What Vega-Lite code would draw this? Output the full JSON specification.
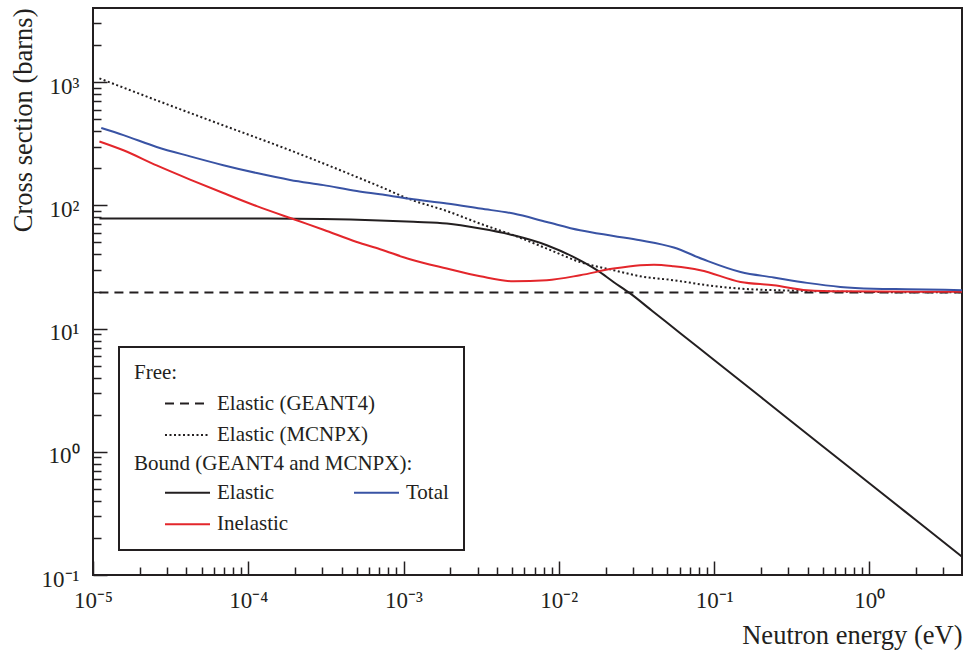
{
  "$schema": "https://vega.github.io/schema/vega-lite/v6.json",
  "width": 869,
  "height": 567,
  "autosize": {"type": "none"},
  "padding": {"left": 93, "top": 8, "right": 1, "bottom": 75},
  "background": "white",
  "config": {
    "view": {"stroke": "#231f20", "strokeWidth": 2},
    "font": "Liberation Serif",
    "axis": {"zindex": 1}
  },
  "data": {
    "values": [
      {"group": "free", "curve": "Elastic (GEANT4)", "E": 1.1e-5, "sigma": 19.6},
      {"group": "free", "curve": "Elastic (GEANT4)", "E": 3.95, "sigma": 19.6},

      {"group": "free", "curve": "Elastic (MCNPX)", "E": 1.1e-5, "sigma": 1074},
      {"group": "free", "curve": "Elastic (MCNPX)", "E": 2.57e-5, "sigma": 712},
      {"group": "free", "curve": "Elastic (MCNPX)", "E": 6.91e-5, "sigma": 446},
      {"group": "free", "curve": "Elastic (MCNPX)", "E": 1.86e-4, "sigma": 280},
      {"group": "free", "curve": "Elastic (MCNPX)", "E": 5.0e-4, "sigma": 170},
      {"group": "free", "curve": "Elastic (MCNPX)", "E": 7.06e-4, "sigma": 142},
      {"group": "free", "curve": "Elastic (MCNPX)", "E": 1.1e-3, "sigma": 112},
      {"group": "free", "curve": "Elastic (MCNPX)", "E": 1.9e-3, "sigma": 90},
      {"group": "free", "curve": "Elastic (MCNPX)", "E": 3.12e-3, "sigma": 71},
      {"group": "free", "curve": "Elastic (MCNPX)", "E": 5.11e-3, "sigma": 57.2},
      {"group": "free", "curve": "Elastic (MCNPX)", "E": 8.37e-3, "sigma": 44.6},
      {"group": "free", "curve": "Elastic (MCNPX)", "E": 1.37e-2, "sigma": 34.7},
      {"group": "free", "curve": "Elastic (MCNPX)", "E": 2.25e-2, "sigma": 29.8},
      {"group": "free", "curve": "Elastic (MCNPX)", "E": 3.34e-2, "sigma": 26.6},
      {"group": "free", "curve": "Elastic (MCNPX)", "E": 5.48e-2, "sigma": 24.7},
      {"group": "free", "curve": "Elastic (MCNPX)", "E": 9.0e-2, "sigma": 22.5},
      {"group": "free", "curve": "Elastic (MCNPX)", "E": 0.148, "sigma": 21.1},
      {"group": "free", "curve": "Elastic (MCNPX)", "E": 0.397, "sigma": 20.2},
      {"group": "free", "curve": "Elastic (MCNPX)", "E": 1.0, "sigma": 19.8},
      {"group": "free", "curve": "Elastic (MCNPX)", "E": 3.95, "sigma": 19.7},

      {"group": "bound", "curve": "Elastic", "E": 1.1e-5, "sigma": 78.3},
      {"group": "bound", "curve": "Elastic", "E": 1.0e-4, "sigma": 78.2},
      {"group": "bound", "curve": "Elastic", "E": 3.0e-4, "sigma": 77.5},
      {"group": "bound", "curve": "Elastic", "E": 7.0e-4, "sigma": 75.5},
      {"group": "bound", "curve": "Elastic", "E": 1.16e-3, "sigma": 73.5},
      {"group": "bound", "curve": "Elastic", "E": 1.9e-3, "sigma": 71.2},
      {"group": "bound", "curve": "Elastic", "E": 3.12e-3, "sigma": 64.8},
      {"group": "bound", "curve": "Elastic", "E": 5.11e-3, "sigma": 57.2},
      {"group": "bound", "curve": "Elastic", "E": 8.37e-3, "sigma": 47.5},
      {"group": "bound", "curve": "Elastic", "E": 1.24e-2, "sigma": 38.2},
      {"group": "bound", "curve": "Elastic", "E": 1.76e-2, "sigma": 29.8},
      {"group": "bound", "curve": "Elastic", "E": 2.25e-2, "sigma": 23.9},
      {"group": "bound", "curve": "Elastic", "E": 2.88e-2, "sigma": 19.3},
      {"group": "bound", "curve": "Elastic", "E": 0.04, "sigma": 13.9},
      {"group": "bound", "curve": "Elastic", "E": 0.06, "sigma": 9.26},
      {"group": "bound", "curve": "Elastic", "E": 0.1, "sigma": 5.56},
      {"group": "bound", "curve": "Elastic", "E": 0.2, "sigma": 2.78},
      {"group": "bound", "curve": "Elastic", "E": 0.5, "sigma": 1.11},
      {"group": "bound", "curve": "Elastic", "E": 1.0, "sigma": 0.556},
      {"group": "bound", "curve": "Elastic", "E": 2.0, "sigma": 0.278},
      {"group": "bound", "curve": "Elastic", "E": 3.95, "sigma": 0.1407},

      {"group": "bound", "curve": "Inelastic", "E": 1.1e-5, "sigma": 330},
      {"group": "bound", "curve": "Inelastic", "E": 1.57e-5, "sigma": 280},
      {"group": "bound", "curve": "Inelastic", "E": 2.57e-5, "sigma": 211},
      {"group": "bound", "curve": "Inelastic", "E": 4.22e-5, "sigma": 162},
      {"group": "bound", "curve": "Inelastic", "E": 6.91e-5, "sigma": 126},
      {"group": "bound", "curve": "Inelastic", "E": 1.135e-4, "sigma": 98.6},
      {"group": "bound", "curve": "Inelastic", "E": 2.05e-4, "sigma": 75.7},
      {"group": "bound", "curve": "Inelastic", "E": 3.05e-4, "sigma": 63.5},
      {"group": "bound", "curve": "Inelastic", "E": 5.0e-4, "sigma": 50.5},
      {"group": "bound", "curve": "Inelastic", "E": 7.06e-4, "sigma": 44.1},
      {"group": "bound", "curve": "Inelastic", "E": 1.1e-3, "sigma": 36.5},
      {"group": "bound", "curve": "Inelastic", "E": 1.9e-3, "sigma": 30.7},
      {"group": "bound", "curve": "Inelastic", "E": 3.12e-3, "sigma": 26.6},
      {"group": "bound", "curve": "Inelastic", "E": 5.11e-3, "sigma": 24.2},
      {"group": "bound", "curve": "Inelastic", "E": 8.37e-3, "sigma": 24.7},
      {"group": "bound", "curve": "Inelastic", "E": 1.37e-2, "sigma": 27.1},
      {"group": "bound", "curve": "Inelastic", "E": 2.25e-2, "sigma": 30.7},
      {"group": "bound", "curve": "Inelastic", "E": 3.34e-2, "sigma": 32.7},
      {"group": "bound", "curve": "Inelastic", "E": 4.1e-2, "sigma": 33.0},
      {"group": "bound", "curve": "Inelastic", "E": 5.48e-2, "sigma": 32.1},
      {"group": "bound", "curve": "Inelastic", "E": 8.15e-2, "sigma": 29.8},
      {"group": "bound", "curve": "Inelastic", "E": 0.148, "sigma": 23.9},
      {"group": "bound", "curve": "Inelastic", "E": 0.242, "sigma": 22.5},
      {"group": "bound", "curve": "Inelastic", "E": 0.397, "sigma": 20.5},
      {"group": "bound", "curve": "Inelastic", "E": 0.65, "sigma": 20.1},
      {"group": "bound", "curve": "Inelastic", "E": 3.95, "sigma": 19.9},

      {"group": "bound", "curve": "Total", "E": 1.13e-5, "sigma": 425},
      {"group": "bound", "curve": "Total", "E": 1.57e-5, "sigma": 372},
      {"group": "bound", "curve": "Total", "E": 2.57e-5, "sigma": 298},
      {"group": "bound", "curve": "Total", "E": 4.22e-5, "sigma": 250},
      {"group": "bound", "curve": "Total", "E": 6.91e-5, "sigma": 212},
      {"group": "bound", "curve": "Total", "E": 1.135e-4, "sigma": 183},
      {"group": "bound", "curve": "Total", "E": 1.86e-4, "sigma": 161},
      {"group": "bound", "curve": "Total", "E": 3.05e-4, "sigma": 146},
      {"group": "bound", "curve": "Total", "E": 5.0e-4, "sigma": 131},
      {"group": "bound", "curve": "Total", "E": 7.06e-4, "sigma": 123},
      {"group": "bound", "curve": "Total", "E": 1.1e-3, "sigma": 113},
      {"group": "bound", "curve": "Total", "E": 1.9e-3, "sigma": 103.5},
      {"group": "bound", "curve": "Total", "E": 3.12e-3, "sigma": 94.2},
      {"group": "bound", "curve": "Total", "E": 5.11e-3, "sigma": 85.8},
      {"group": "bound", "curve": "Total", "E": 8.37e-3, "sigma": 73.3},
      {"group": "bound", "curve": "Total", "E": 1.37e-2, "sigma": 62.8},
      {"group": "bound", "curve": "Total", "E": 2.25e-2, "sigma": 56.5},
      {"group": "bound", "curve": "Total", "E": 3.34e-2, "sigma": 52.1},
      {"group": "bound", "curve": "Total", "E": 5.5e-2, "sigma": 45.5},
      {"group": "bound", "curve": "Total", "E": 8.5e-2, "sigma": 36.5},
      {"group": "bound", "curve": "Total", "E": 0.148, "sigma": 28.8},
      {"group": "bound", "curve": "Total", "E": 0.242, "sigma": 26.0},
      {"group": "bound", "curve": "Total", "E": 0.397, "sigma": 23.5},
      {"group": "bound", "curve": "Total", "E": 0.65, "sigma": 21.8},
      {"group": "bound", "curve": "Total", "E": 1.066, "sigma": 21.1},
      {"group": "bound", "curve": "Total", "E": 1.75, "sigma": 20.9},
      {"group": "bound", "curve": "Total", "E": 3.95, "sigma": 20.5}
    ]
  },
  "encoding": {
    "x": {
      "field": "E",
      "type": "quantitative",
      "scale": {"type": "log", "domain": [1e-5, 3.95], "nice": false},
      "axis": {
        "title": "Neutron energy (eV)",
        "values": [1e-5, 2e-5, 3e-5, 4e-5, 5e-5, 6e-5, 7e-5, 8e-5, 9e-5, 1e-4, 2e-4, 3e-4, 4e-4, 5e-4, 6e-4, 7e-4, 8e-4, 9e-4, 1e-3, 2e-3, 3e-3, 4e-3, 5e-3, 6e-3, 7e-3, 8e-3, 9e-3, 0.01, 0.02, 0.03, 0.04, 0.05, 0.06, 0.07, 0.08, 0.09, 0.1, 0.2, 0.3, 0.4, 0.5, 0.6, 0.7, 0.8, 0.9, 1, 2, 3],
        "domain": false,
        "grid": false,
        "tickColor": "#231f20",
        "tickWidth": 1.5,
        "tickSize": {"condition": {"test": "abs(log(datum.value)/LN10 - round(log(datum.value)/LN10)) < 0.001", "value": -14}, "value": -8},
        "labelExpr": "abs(log(datum.value)/LN10 - round(log(datum.value)/LN10)) < 0.001 ? '10' + ['⁻⁵','⁻⁴','⁻³','⁻²','⁻¹','⁰','¹','²','³'][round(log(datum.value)/LN10) + 5] : ''",
        "labelFont": "Liberation Serif",
        "labelFontSize": 23,
        "labelColor": "#231f20",
        "labelPadding": 28,
        "labelFlush": false,
        "labelOverlap": false,
        "labelBound": false,
        "titleFont": "Liberation Serif",
        "titleFontSize": 26.5,
        "titleFontWeight": "normal",
        "titleColor": "#231f20",
        "titleAnchor": "end",
        "titlePadding": 4
      }
    },
    "y": {
      "field": "sigma",
      "type": "quantitative",
      "scale": {"type": "log", "domain": [0.1, 4000], "nice": false},
      "axis": {
        "title": "Cross section (barns)",
        "values": [0.1, 0.2, 0.3, 0.4, 0.5, 0.6, 0.7, 0.8, 0.9, 1, 2, 3, 4, 5, 6, 7, 8, 9, 10, 20, 30, 40, 50, 60, 70, 80, 90, 100, 200, 300, 400, 500, 600, 700, 800, 900, 1000, 2000, 3000],
        "domain": false,
        "grid": false,
        "tickColor": "#231f20",
        "tickWidth": 1.5,
        "tickSize": {"condition": {"test": "abs(log(datum.value)/LN10 - round(log(datum.value)/LN10)) < 0.001", "value": -14}, "value": -8},
        "labelExpr": "abs(log(datum.value)/LN10 - round(log(datum.value)/LN10)) < 0.001 ? '10' + ['⁻⁵','⁻⁴','⁻³','⁻²','⁻¹','⁰','¹','²','³'][round(log(datum.value)/LN10) + 5] : ''",
        "labelFont": "Liberation Serif",
        "labelFontSize": 23,
        "labelColor": "#231f20",
        "labelPadding": 28,
        "labelOffset": 4,
        "labelFlush": false,
        "labelOverlap": false,
        "labelBound": false,
        "titleFont": "Liberation Serif",
        "titleFontSize": 26.5,
        "titleFontWeight": "normal",
        "titleColor": "#231f20",
        "titleAnchor": "end",
        "titlePadding": 4
      }
    }
  },
  "layer": [
    {
      "transform": [{"filter": "datum.group == 'free'"}],
      "mark": {"type": "line", "color": "#231f20", "strokeWidth": 2, "interpolate": "monotone"},
      "encoding": {
        "strokeDash": {
          "field": "curve",
          "type": "nominal",
          "scale": {"domain": ["Elastic (GEANT4)", "Elastic (MCNPX)"], "range": [[9, 6], [2, 2.5]]},
          "legend": {
            "title": "Bound (GEANT4 and MCNPX):",
            "titleOrient": "bottom",
            "titleFont": "Liberation Serif",
            "titleFontSize": 21,
            "titleFontWeight": "normal",
            "titleColor": "#231f20",
            "titleLimit": 500,
            "titlePadding": 8,
            "orient": "none",
            "legendX": 41,
            "legendY": 385,
            "padding": 0,
            "rowPadding": 9.5,
            "symbolType": "M-3,0H3",
            "symbolSize": 225,
            "symbolStrokeWidth": 2,
            "symbolStrokeColor": "#231f20",
            "symbolOffset": 43,
            "labelOffset": 19,
            "labelFont": "Liberation Serif",
            "labelFontSize": 21,
            "labelColor": "#231f20",
            "labelLimit": 400
          }
        }
      }
    },
    {
      "transform": [{"filter": "datum.group == 'bound'"}],
      "mark": {"type": "line", "strokeWidth": 2, "interpolate": "monotone"},
      "encoding": {
        "color": {
          "field": "curve",
          "type": "nominal",
          "scale": {"domain": ["Elastic", "Inelastic", "Total"], "range": ["#231f20", "#e3262b", "#3953a4"]},
          "legend": {
            "title": "Free:",
            "orient": "none",
            "legendX": 26,
            "legendY": 339,
            "padding": 15,
            "columns": 2,
            "columnPadding": 34,
            "rowPadding": 9.7,
            "strokeColor": "#231f20",
            "symbolType": "M-3,0H3",
            "symbolSize": 225,
            "symbolStrokeWidth": 2,
            "symbolOffset": 43,
            "labelOffset": 19,
            "labelFont": "Liberation Serif",
            "labelFontSize": 21,
            "labelColor": "#231f20",
            "labelLimit": 400,
            "titleFont": "Liberation Serif",
            "titleFontSize": 21,
            "titleFontWeight": "normal",
            "titleColor": "#231f20",
            "titleLimit": 500,
            "titlePadding": 99,
            "encode": {"legend": {"update": {"strokeWidth": {"value": 2}}}}
          }
        }
      }
    }
  ]
}
